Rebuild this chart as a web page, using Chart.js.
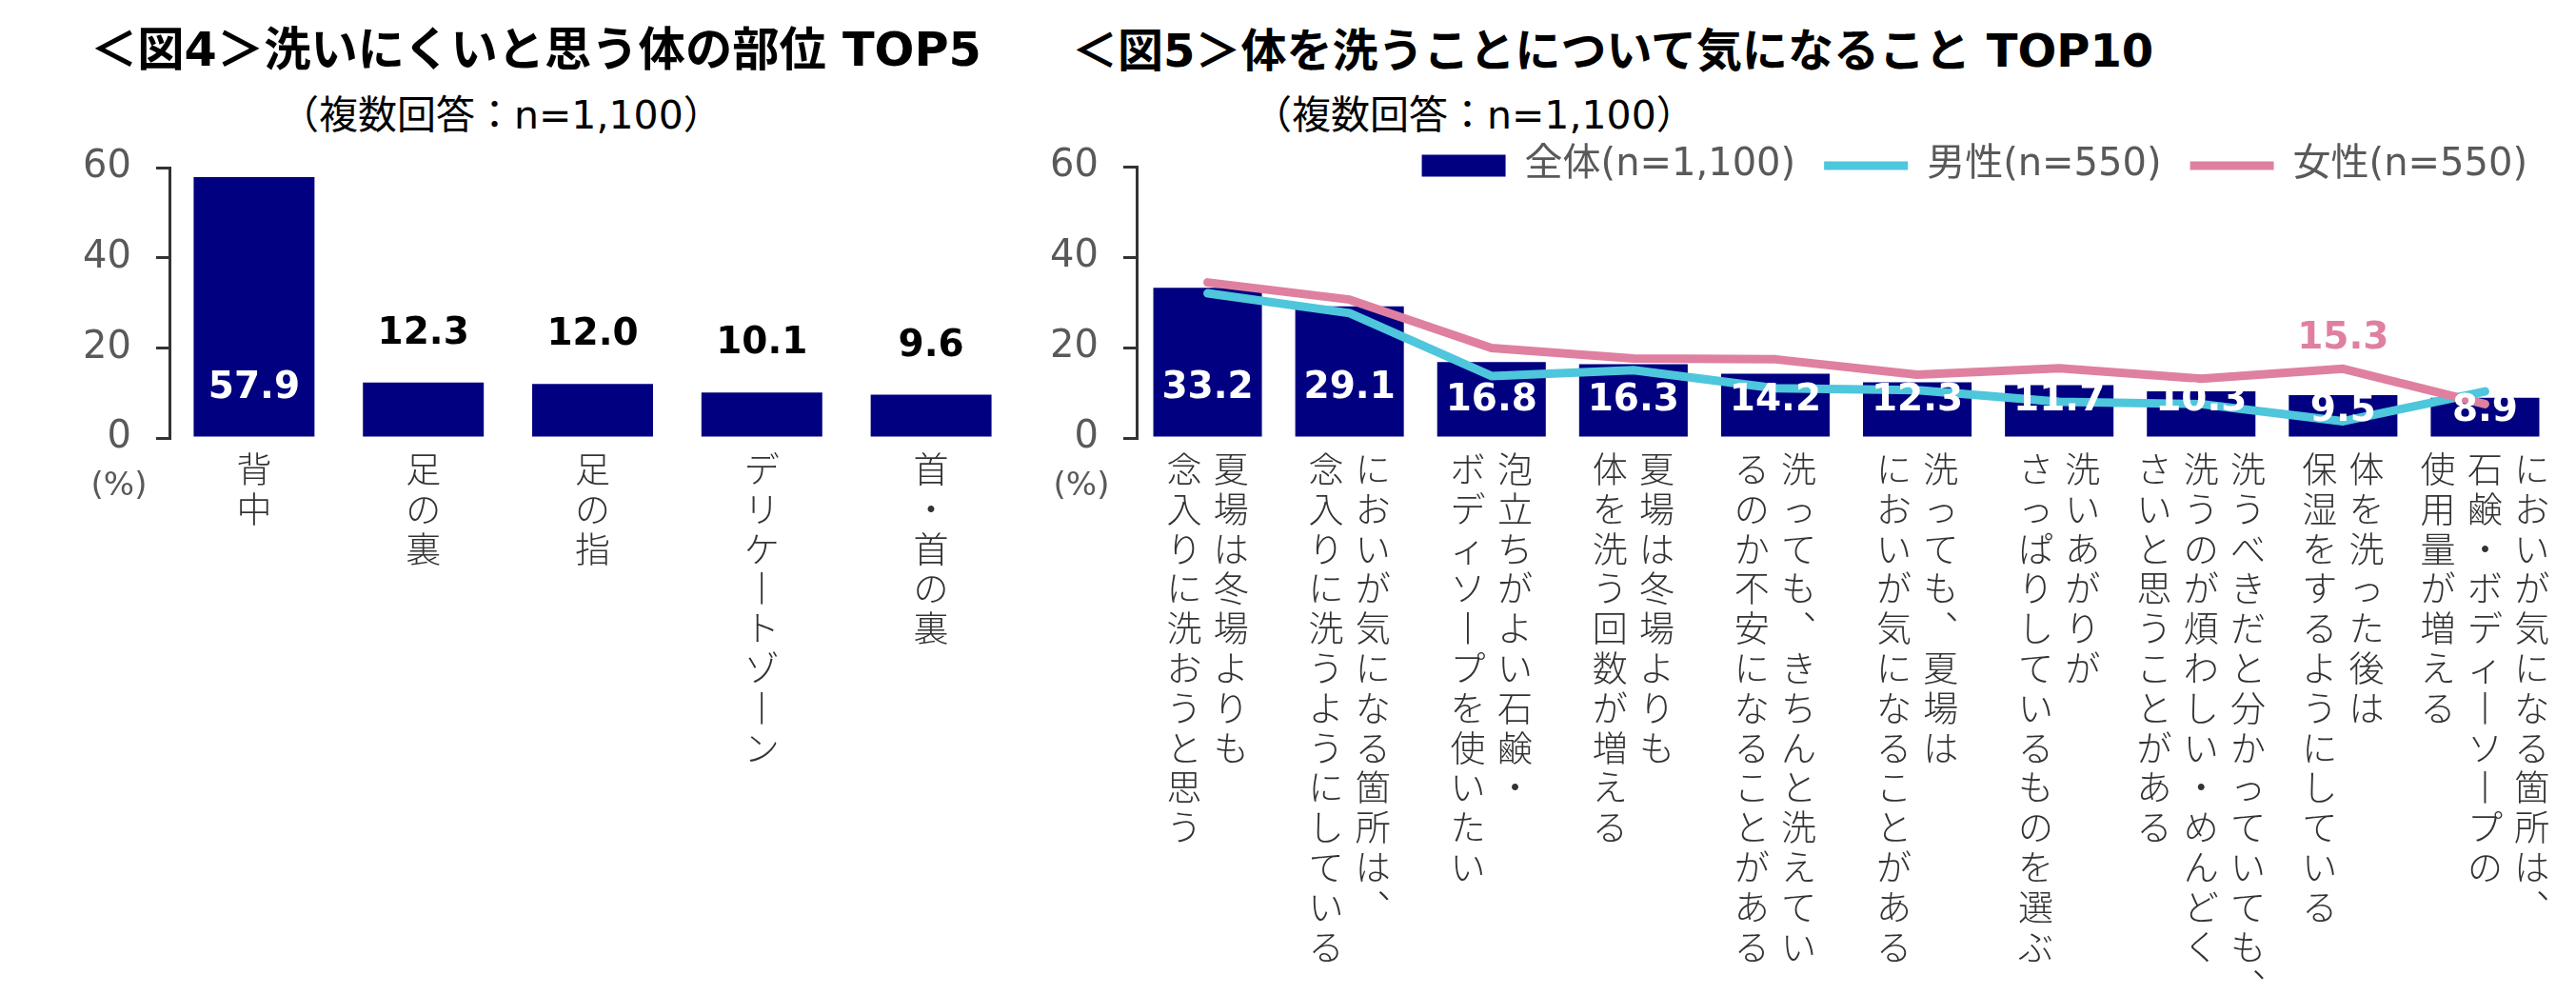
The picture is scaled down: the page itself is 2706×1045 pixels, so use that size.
<!DOCTYPE html>
<html lang="ja">
<head>
<meta charset="utf-8">
<script src="https://cdn.jsdelivr.net/npm/chart.js@4.4.1/dist/chart.umd.min.js"></script>
<style>
  body { margin: 0; width: 2706px; height: 1045px; background: #fff; position: relative; overflow: hidden;
         font-family: 'DejaVu Sans', 'Noto Sans CJK JP', sans-serif; }
  .title { position: absolute; font-weight: bold; line-height: 1; color: #000; white-space: nowrap; }
  .sub { position: absolute; font-size: 41px; line-height: 1; color: #000; white-space: nowrap; }
  canvas { position: absolute; top: 0; }
</style>
</head>
<body>
<div class="title" style="left:95px;top:28px;font-size:49.3px">＜図4＞洗いにくいと思う体の部位 TOP5</div>
<div class="sub" style="left:294px;top:101px">（複数回答：n=1,100）</div>
<div class="title" style="left:1126px;top:29px;font-size:48px">＜図5＞体を洗うことについて気になること TOP10</div>
<div class="sub" style="left:1316px;top:101px">（複数回答：n=1,100）</div>
<canvas id="fig4" width="1100" height="1045" style="left:0"></canvas>
<canvas id="fig5" width="1606" height="1045" style="left:1100px"></canvas>
<script>
// fig4 data
const parts4 = [['背中'], ['足の裏'], ['足の指'], ['デリケートゾーン'], ['首・首の裏']]
const values4 = [57.9, 12.3, 12.0, 10.1, 9.6]

// fig5 data (each label split into its printed columns, right column first)
const items5 = [
  ['夏場は冬場よりも', '念入りに洗おうと思う'],
  ['においが気になる箇所は、', '念入りに洗うようにしている'],
  ['泡立ちがよい石鹸・', 'ボディソープを使いたい'],
  ['夏場は冬場よりも', '体を洗う回数が増える'],
  ['洗っても、きちんと洗えてい', 'るのか不安になることがある'],
  ['洗っても、夏場は', 'においが気になることがある'],
  ['洗いあがりが', 'さっぱりしているものを選ぶ'],
  ['洗うべきだと分かっていても、', '洗うのが煩わしい・めんどく', 'さいと思うことがある'],
  ['体を洗った後は', '保湿をするようにしている'],
  ['においが気になる箇所は、', '石鹸・ボディーソープの', '使用量が増える']
]
const total5 = [33.2, 29.1, 16.8, 16.3, 14.2, 12.3, 11.7, 10.3, 9.5, 8.9]
const male5 = [32.0, 27.6, 13.7, 15.0, 11.0, 10.6, 8.0, 7.5, 3.7, 10.3]
const female5 = [34.4, 30.6, 19.9, 17.6, 17.4, 14.0, 15.4, 13.1, 15.3, 7.5]
const seriesNames = ['全体(n=1,100)', '男性(n=550)', '女性(n=550)']
const femaleLabelIdx = 8
const yTicks = [0, 20, 40, 60]

const LATIN = "'DejaVu Sans', 'Noto Sans CJK JP', sans-serif"
const JP = "'Noto Sans CJK JP', sans-serif"
const NAVY = '#000080'
const BLUE = '#4EC6DC'
const PINK = '#DF80A0'

// stack characters so the label reads top to bottom, columns right to left
// (long vowel mark and comma swapped for their upright-writing shapes)
function vertical(cols) {
  const chars = cols.map(c => Array.from(c.replace(/ー/g, '丨').replace(/、/g, '︑')))
  const n = Math.max(...chars.map(c => c.length))
  const lines = []
  for (let i = 0; i < n; i++) {
    lines.push(chars.slice().reverse().map(c => c[i] || '\u3000').join('\u2004'))
  }
  return lines
}

function yAxis(width) {
  return {
    min: yTicks[0],
    max: yTicks[yTicks.length - 1],
    afterBuildTicks: s => { s.ticks = yTicks.map(v => ({value: v})) },
    ticks: {padding: 26, color: '#595959', font: {family: LATIN, size: 40}},
    grid: {drawOnChartArea: false, drawTicks: true, tickLength: 14, lineWidth: 3, color: '#333'},
    border: {display: true, color: '#333', width: 3},
    afterFit: s => { s.width = width }
  }
}

function xAxis(cols) {
  return {
    offset: true,
    grid: {display: false, drawTicks: false},
    border: {display: false},
    ticks: {
      autoSkip: false, maxRotation: 0, minRotation: 0, padding: 12, color: '#333',
      font: {family: JP, size: 37, lineHeight: 1.13, weight: '300'},
      callback: (v, i) => vertical(cols[i])
    },
    afterFit: s => { s.height = 585 }
  }
}

function percentMark(offset) {
  return {
    id: 'percentMark',
    afterDraw(chart) {
      const {ctx} = chart
      const y = chart.scales.y
      ctx.save()
      ctx.font = '34px ' + LATIN
      ctx.fillStyle = '#595959'
      ctx.textAlign = 'center'
      ctx.textBaseline = 'middle'
      ctx.fillText('(%)', y.right - offset, y.bottom + 51)
      ctx.restore()
    }
  }
}

const labels4 = {
  id: 'labels4',
  afterDatasetsDraw(chart) {
    const {ctx} = chart
    const y = chart.scales.y
    ctx.save()
    ctx.font = 'bold 39px ' + LATIN
    ctx.textAlign = 'center'
    ctx.textBaseline = 'middle'
    chart.getDatasetMeta(0).data.forEach((bar, i) => {
      const v = values4[i]
      if (v > 30) {
        ctx.fillStyle = '#fff'
        ctx.fillText(v.toFixed(1), bar.x, y.getPixelForValue(11))
      } else {
        ctx.fillStyle = '#000'
        ctx.fillText(v.toFixed(1), bar.x, bar.y - 51)
      }
    })
    ctx.restore()
  }
}

const labels5 = {
  id: 'labels5',
  afterDatasetsDraw(chart) {
    const {ctx} = chart
    const y = chart.scales.y
    ctx.save()
    ctx.font = 'bold 39px ' + LATIN
    ctx.textAlign = 'center'
    ctx.textBaseline = 'middle'
    ctx.fillStyle = '#fff'
    chart.getDatasetMeta(0).data.forEach((bar, i) => {
      const v = total5[i]
      const at = v >= 20 ? 11 : v >= 10 ? 8.3 : 5.9
      ctx.fillText(v.toFixed(1), bar.x, y.getPixelForValue(at))
    })
    const pt = chart.getDatasetMeta(2).data[femaleLabelIdx]
    ctx.fillStyle = PINK
    ctx.fillText(female5[femaleLabelIdx].toFixed(1), pt.x, pt.y - 31)
    ctx.restore()
  }
}

// legend sits level with the top of the axis: fix its height, then slide it down
const legendOverlap = {
  id: 'legendOverlap',
  beforeInit(chart) {
    const fit = chart.legend.fit
    chart.legend.fit = function() {
      fit.call(this)
      this.height = 80
    }
  },
  afterLayout(chart) {
    const lg = chart.legend
    const shift = 174 - (lg.top + 30 + 20)
    lg.top += shift
    lg.bottom += shift
  }
}

new Chart(document.getElementById('fig4'), {
  type: 'bar',
  data: {
    labels: parts4.map(p => p.join('')),
    datasets: [{
      data: values4,
      backgroundColor: NAVY,
      borderWidth: 0,
      categoryPercentage: 1,
      barPercentage: 0.714
    }]
  },
  options: {
    responsive: false,
    animation: false,
    devicePixelRatio: 1,
    layout: {padding: {top: 176, right: 33, bottom: 0, left: 0}},
    plugins: {legend: {display: false}, tooltip: {enabled: false}},
    scales: {x: xAxis(parts4), y: yAxis(178)}
  },
  plugins: [labels4, percentMark(53)]
})

new Chart(document.getElementById('fig5'), {
  data: {
    labels: items5.map(c => c.join('')),
    datasets: [
      {
        type: 'bar',
        label: seriesNames[0],
        data: total5,
        backgroundColor: NAVY,
        borderWidth: 0,
        categoryPercentage: 1,
        barPercentage: 0.765,
        order: 2
      },
      {
        type: 'line',
        label: seriesNames[1],
        data: male5,
        borderColor: BLUE,
        backgroundColor: BLUE,
        borderWidth: 9,
        borderCapStyle: 'round',
        borderJoinStyle: 'round',
        pointRadius: 0,
        tension: 0,
        order: 1
      },
      {
        type: 'line',
        label: seriesNames[2],
        data: female5,
        borderColor: PINK,
        backgroundColor: PINK,
        borderWidth: 9,
        borderCapStyle: 'round',
        borderJoinStyle: 'round',
        pointRadius: 0,
        tension: 0,
        order: 0
      }
    ]
  },
  options: {
    responsive: false,
    animation: false,
    devicePixelRatio: 1,
    layout: {padding: {top: 95, right: 21, bottom: 0, left: 0}},
    plugins: {
      tooltip: {enabled: false},
      legend: {
        position: 'top',
        align: 'end',
        labels: {
          usePointStyle: true,
          pointStyleWidth: 88,
          boxHeight: 23,
          padding: 30,
          color: '#595959',
          font: {family: LATIN, size: 40},
          sort: (a, b) => a.datasetIndex - b.datasetIndex,
          generateLabels(chart) {
            const items = Chart.defaults.plugins.legend.labels.generateLabels(chart)
            items.forEach(it => {
              it.pointStyle = chart.data.datasets[it.datasetIndex].type === 'line' ? 'line' : 'rect'
            })
            return items
          }
        }
      }
    },
    scales: {x: xAxis(items5), y: yAxis(94)}
  },
  plugins: [labels5, percentMark(58), legendOverlap]
})
</script>
</body>
</html>
